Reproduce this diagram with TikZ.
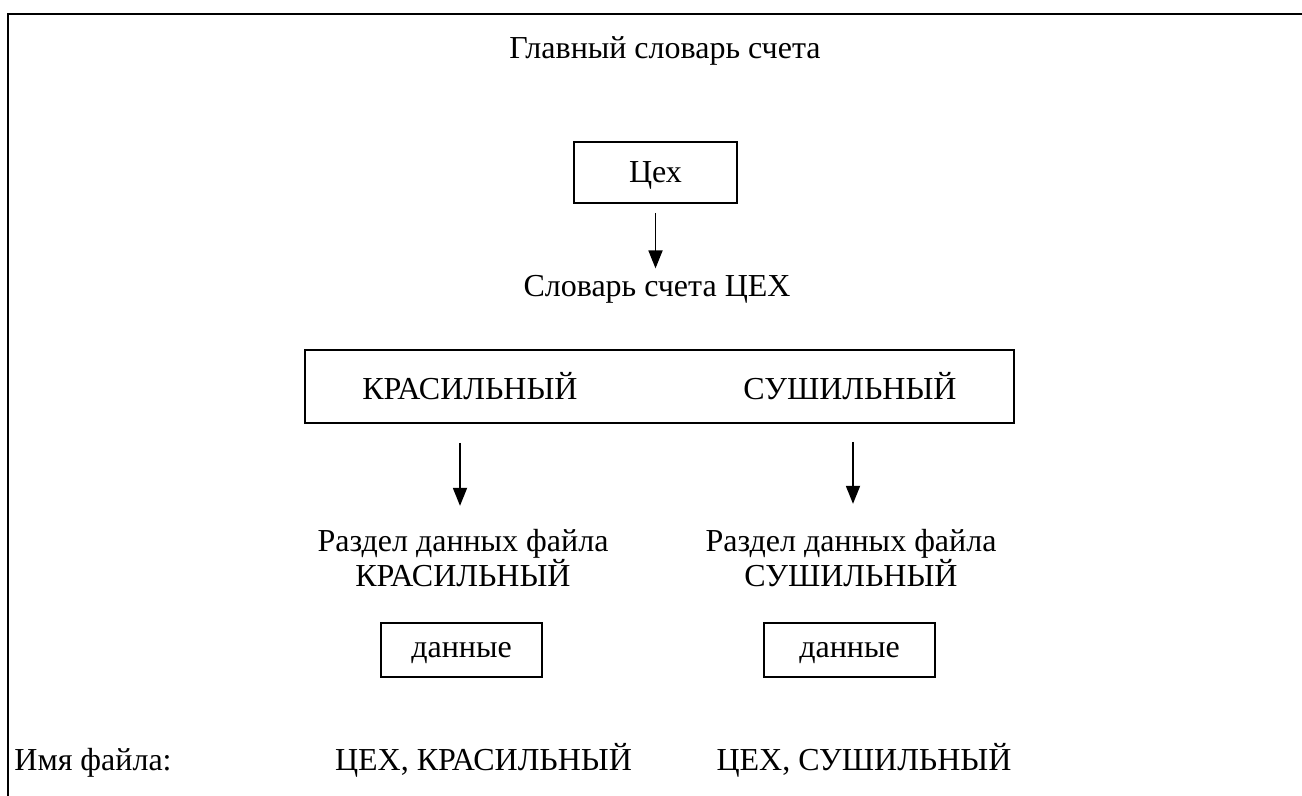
\documentclass[tikz,border=0pt]{standalone}
\usepackage{fontspec}
\setmainfont{Liberation Serif}
\usetikzlibrary{positioning, arrows.meta}

\begin{document}
\begin{tikzpicture}[
        x=0.5pt, y=-0.5pt,
        every node/.style={
            align=center,
            font=\fontsize{16}{17.5}\selectfont,
            inner sep=0pt
        },
        cellbox/.style={
            rectangle,
            draw,
            line width=1pt,
            text depth=0pt
        },
        txt/.style={
            anchor=base
        },
        arrow/.style={
            -{Triangle[length=9pt,width=7pt]},
            line width=0.9pt
        }
    ]
    \useasboundingbox (0,0) rectangle (1302,796);

    % рамка
    \draw[line width=1.1pt] (8,796) -- (8,14) -- (1302,14);

    % главный словарь и цех
    \node[txt] (title) at (665,59) {Главный словарь счета};
    \node[cellbox, minimum width=81.5pt, minimum height=30.5pt] (ceh) at (655.5,172.5) {Цех};
    \node[txt] (slovar) at (657,297) {Словарь счета ЦЕХ};
    \coordinate (c1) at (655.5,213);
    \draw[arrow, shorten >=3.5pt] (c1) -- (c1 |- slovar.north);

    % словарь цеха
    \node[cellbox, minimum width=354.5pt, minimum height=36.5pt] (ceha) at (659,386.5) {};
    \node[txt] (kras) at (470,400) {КРАСИЛЬНЫЙ};
    \node[txt] (sush) at (850,400) {СУШИЛЬНЫЙ};

    % разделы данных
    \node (razd1) at (463,558) {Раздел данных файла\\КРАСИЛЬНЫЙ};
    \node (razd2) at (851,558) {Раздел данных файла\\СУШИЛЬНЫЙ};
    \coordinate (k1) at (460,443);
    \coordinate (s1) at (853,442);
    \draw[arrow, shorten >=11.5pt] (k1) -- (k1 |- razd1.north);
    \draw[arrow, shorten >=12.5pt] (s1) -- (s1 |- razd2.north);

    \node[cellbox, minimum width=80.5pt, minimum height=27pt] (dan1) at (461.5,650) {данные};
    \node[cellbox, minimum width=85.5pt, minimum height=27pt] (dan2) at (849.5,650) {данные};

    % имена файлов
    \node[txt, anchor=base west] (imya) at (14,770) {Имя файла:};
    \node[txt] (fkras) at (483.5,770) {ЦЕХ, КРАСИЛЬНЫЙ};
    \node[txt] (fsush) at (864,770) {ЦЕХ, СУШИЛЬНЫЙ};

\end{tikzpicture}
\end{document}
